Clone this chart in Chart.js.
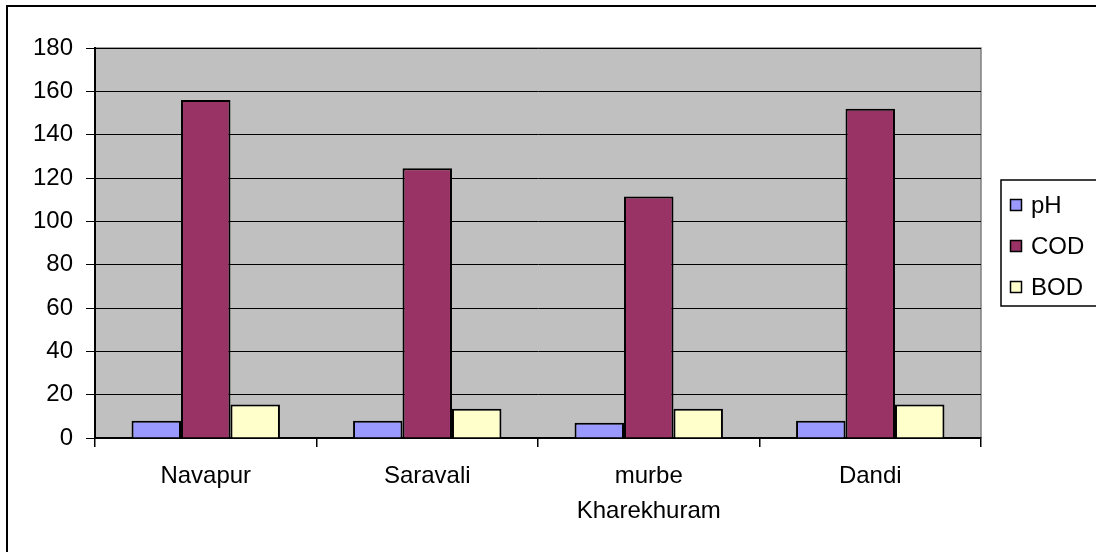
<!DOCTYPE html>
<html>
<head>
<meta charset="utf-8">
<script src="https://cdn.jsdelivr.net/npm/chart.js@4.4.1/dist/chart.umd.min.js"></script>
<style>
  html, body { margin: 0; padding: 0; background: #fff; }
  #wrap { width: 1096px; height: 552px; position: relative; }
</style>
</head>
<body>
<div id="wrap"><canvas id="chart" width="1096" height="552"></canvas></div>
<script>
const sites = ["Navapur", "Saravali", ["murbe", "Kharekhuram"], "Dandi"];
const phValues = [8, 8, 7, 8];
const codValues = [156, 124.5, 111.5, 152];
const bodValues = [15.5, 13.5, 13.5, 15.5];
const yTicks = [0, 20, 40, 60, 80, 100, 120, 140, 160, 180];

const COLORS = { pH: "#9999ff", COD: "#993366", BOD: "#ffffcc" };
const FONT = "'Liberation Sans', Arial, sans-serif";

// white page, outer frame and grey plot area
const frame = {
  id: "frame",
  beforeDraw(chart) {
    const { ctx, chartArea: a } = chart;
    ctx.save();
    ctx.fillStyle = "#fff";
    ctx.fillRect(0, 0, chart.width, chart.height);
    ctx.strokeStyle = "#000";
    ctx.lineWidth = 2;
    ctx.strokeRect(7, 6, chart.width + 20, chart.height + 20);
    ctx.fillStyle = "#c0c0c0";
    ctx.fillRect(a.left, a.top, a.right - a.left, a.bottom - a.top);
    ctx.strokeStyle = "#808080";
    ctx.lineWidth = 1.5;
    ctx.beginPath();
    ctx.moveTo(a.left, a.top);
    ctx.lineTo(a.right, a.top);
    ctx.lineTo(a.right, a.bottom);
    ctx.stroke();
    ctx.restore();
  }
};

// boxed legend on the right, like the old office charts
const boxLegend = {
  id: "boxLegend",
  afterDraw(chart) {
    const { ctx } = chart;
    ctx.save();
    ctx.strokeStyle = "#000";
    ctx.lineWidth = 1.5;
    ctx.strokeRect(1001, 180, 120, 126);
    ctx.font = "24px " + FONT;
    ctx.textBaseline = "middle";
    chart.data.datasets.forEach((ds, i) => {
      const y = 205 + i * 41;
      ctx.fillStyle = ds.backgroundColor;
      ctx.fillRect(1010, y - 6, 12, 12);
      ctx.lineWidth = 1.5;
      ctx.strokeRect(1010.5, y - 5.5, 11, 11);
      ctx.fillStyle = "#000";
      ctx.fillText(ds.label, 1031, y + 1);
    });
    ctx.restore();
  }
};

new Chart(document.getElementById("chart"), {
  type: "bar",
  data: {
    labels: sites,
    datasets: [
      { label: "pH", data: phValues, backgroundColor: COLORS.pH },
      { label: "COD", data: codValues, backgroundColor: COLORS.COD },
      { label: "BOD", data: bodValues, backgroundColor: COLORS.BOD },
    ].map(d => ({ ...d, borderColor: "#000", borderWidth: 2, categoryPercentage: 0.67, barPercentage: 1 }))
  },
  options: {
    responsive: false,
    animation: false,
    devicePixelRatio: 1,
    layout: { padding: { left: 0, top: 48, right: 115, bottom: 0 } },
    plugins: { legend: { display: false }, tooltip: { enabled: false } },
    scales: {
      x: {
        grid: { drawOnChartArea: false, drawTicks: true, tickLength: 9, color: "#000", lineWidth: 1.5 },
        border: { color: "#000", width: 2 },
        ticks: { color: "#000", font: { family: FONT, size: 24, lineHeight: 1.45 }, padding: 12, maxRotation: 0 },
        afterFit: s => { s.height = 114; }
      },
      y: {
        min: 0,
        max: 180,
        afterBuildTicks: s => { s.ticks = yTicks.map(v => ({ value: v })); },
        grid: { color: "#000", lineWidth: 1, tickLength: 9 },
        border: { color: "#000", width: 2 },
        ticks: { color: "#000", font: { family: FONT, size: 24 }, padding: 13 },
        afterFit: s => { s.width = 95; }
      }
    }
  },
  plugins: [frame, boxLegend]
});
</script>
</body>
</html>
